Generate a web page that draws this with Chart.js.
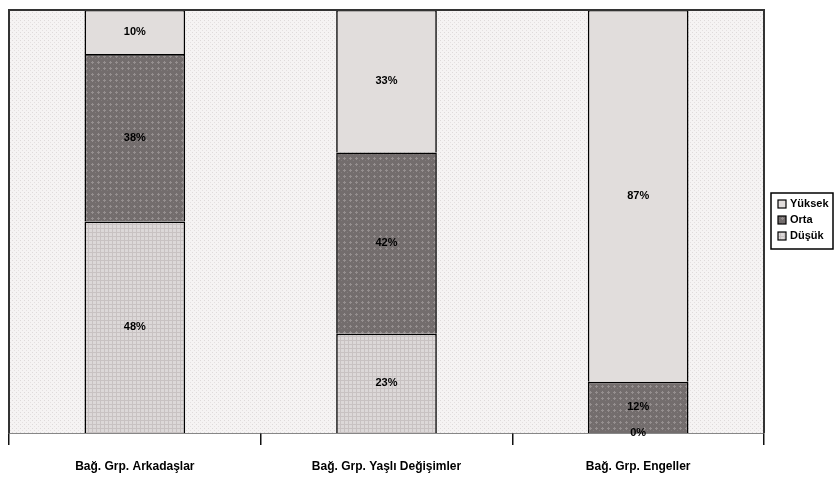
<!DOCTYPE html>
<html>
<head>
<meta charset="utf-8">
<script src="https://cdn.jsdelivr.net/npm/chart.js@4.4.1/dist/chart.umd.min.js"></script>
<style>
  html, body { margin: 0; padding: 0; background: #ffffff; }
  #wrap { width: 834px; height: 480px; position: relative; }
</style>
</head>
<body>
<div id="wrap"><canvas id="c" width="834" height="480"></canvas></div>
<script>
// Categories and answer shares (percent labels as reported per group)
const categories = ['Bağ. Grp. Arkadaşlar', 'Bağ. Grp. Yaşlı Değişimler', 'Bağ. Grp. Engeller'];
const seriesNames = ['Düşük', 'Orta', 'Yüksek'];      // bottom → top
const dusuk  = [48, 23, 0];
const orta   = [38, 42, 12];
const yuksek = [10, 33, 87];

const FONT = 'bold 11px "Liberation Sans", Arial, sans-serif';

function makePattern(size, base, dots) {
  const c = document.createElement('canvas');
  c.width = size; c.height = size;
  const g = c.getContext('2d');
  g.fillStyle = base; g.fillRect(0, 0, size, size);
  dots.forEach(([x, y, w, h, col]) => { g.fillStyle = col; g.fillRect(x, y, w, h); });
  return g.createPattern(c, 'repeat');
}

const ctx0 = document.getElementById('c').getContext('2d');
const bgPattern = makePattern(4, '#f5f3f3', [[0, 0, 1, 1, '#dedada'], [2, 2, 1, 1, '#e4e0e0']]);
const darkPattern = makePattern(6, '#736d6d', [[2, 1, 1, 3, '#958f8f'], [1, 2, 3, 1, '#958f8f'], [5, 4, 1, 1, '#837d7d']]);
const lightDotPattern = makePattern(4, '#dcd8d8', [[0, 0, 4, 1, '#c8c2c2'], [0, 0, 1, 4, '#c8c2c2']]);
const topFill = '#e1dddc';

const raw = [dusuk, orta, yuksek];
const totals = categories.map((_, i) => raw.reduce((s, arr) => s + arr[i], 0));
const norm = arr => arr.map((v, i) => v / totals[i] * 100);

const fills = [lightDotPattern, darkPattern, topFill];

const datasets = raw.map((arr, k) => ({
  label: seriesNames[k],
  data: norm(arr),
  rawValues: arr,
  backgroundColor: fills[k],
  borderColor: '#000000',
  borderWidth: 1.6,
  borderSkipped: 'bottom',
  barPercentage: 0.4,
  categoryPercentage: 1.0
}));

// Plot area background and frame
const frame = {
  id: 'frame',
  beforeDatasetsDraw(chart) {
    const { ctx, chartArea: a } = chart;
    ctx.save();
    ctx.fillStyle = bgPattern;
    ctx.fillRect(a.left, a.top, a.right - a.left, a.bottom - a.top);
    ctx.restore();
  },
  afterDatasetsDraw(chart) {
    const { ctx, chartArea: a } = chart;
    ctx.save();
    ctx.strokeStyle = '#333333';
    ctx.lineWidth = 2;
    ctx.beginPath();
    ctx.moveTo(a.left, a.bottom);
    ctx.lineTo(a.left, a.top);
    ctx.lineTo(a.right, a.top);
    ctx.lineTo(a.right, a.bottom);
    ctx.stroke();
    ctx.restore();
  }
};

// Value labels in the middle of each segment
const valueLabels = {
  id: 'valueLabels',
  afterDatasetsDraw(chart) {
    const { ctx } = chart;
    ctx.save();
    ctx.font = FONT;
    ctx.fillStyle = '#000000';
    ctx.textAlign = 'center';
    ctx.textBaseline = 'middle';
    chart.data.datasets.forEach((ds, k) => {
      chart.getDatasetMeta(k).data.forEach((bar, i) => {
        const y = (bar.y + bar.base) / 2;
        ctx.fillText(ds.rawValues[i] + '%', bar.x, y);
      });
    });
    ctx.restore();
  }
};

// Boxed legend on the right, top series listed first
const boxLegend = {
  id: 'boxLegend',
  afterDraw(chart) {
    const { ctx } = chart;
    const x = 771, y = 193, w = 62, h = 56;
    ctx.save();
    ctx.fillStyle = '#ffffff';
    ctx.fillRect(x, y, w, h);
    ctx.strokeStyle = '#000000';
    ctx.lineWidth = 1.5;
    ctx.strokeRect(x, y, w, h);
    ctx.font = FONT;
    ctx.textBaseline = 'middle';
    ctx.textAlign = 'left';
    const order = [2, 1, 0];
    const rows = [204, 220, 236];
    order.forEach((k, r) => {
      const ds = chart.data.datasets[k];
      ctx.fillStyle = ds.backgroundColor;
      ctx.fillRect(778, rows[r] - 4, 8, 8);
      ctx.strokeStyle = '#000000';
      ctx.lineWidth = 1.2;
      ctx.strokeRect(778, rows[r] - 4, 8, 8);
      ctx.fillStyle = '#000000';
      ctx.fillText(ds.label, 790, rows[r]);
    });
    ctx.restore();
  }
};

new Chart(ctx0, {
  type: 'bar',
  data: { labels: categories, datasets },
  options: {
    responsive: false,
    animation: false,
    layout: { padding: { left: 9, top: 10, right: 70, bottom: 0 } },
    plugins: { legend: { display: false }, tooltip: { enabled: false } },
    scales: {
      x: {
        stacked: true,
        offset: true,
        afterFit(scale) { scale.height = 47; },
        grid: {
          offset: true,
          drawOnChartArea: false,
          drawTicks: true,
          tickLength: 12,
          color: '#111111',
          lineWidth: 1.5
        },
        border: { display: true, color: '#111111', width: 1.5 },
        ticks: {
          color: '#000000',
          font: { family: '"Liberation Sans", Arial, sans-serif', size: 12, weight: 'bold' },
          padding: 14,
          maxRotation: 0,
          autoSkip: false
        }
      },
      y: {
        stacked: true,
        display: false,
        min: 0,
        max: 100
      }
    }
  },
  plugins: [frame, valueLabels, boxLegend]
});
</script>
</body>
</html>
